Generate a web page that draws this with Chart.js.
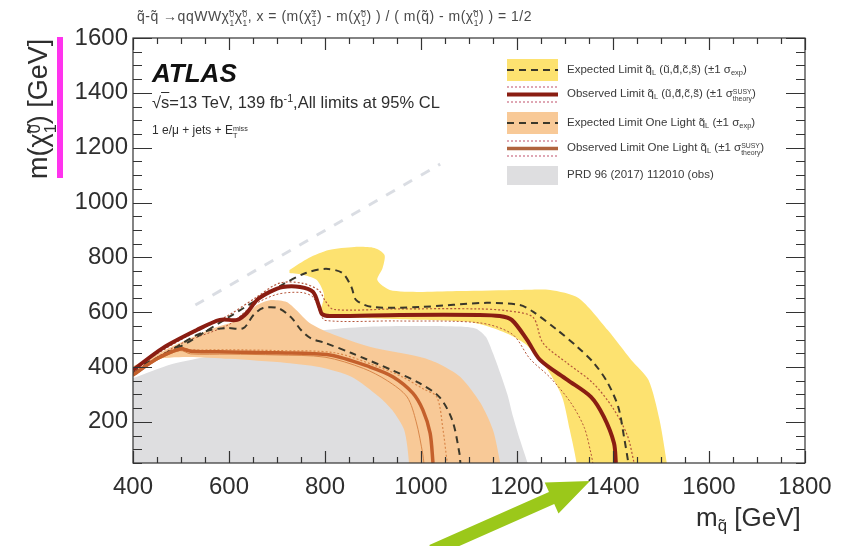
<!DOCTYPE html>
<html>
<head>
<meta charset="utf-8">
<script src="https://cdn.jsdelivr.net/npm/chart.js@4.4.1/dist/chart.umd.min.js"></script>
<style>
  body { margin: 0; background: #fff; }
  #wrap { position: relative; width: 850px; height: 546px; font-family: "Liberation Sans", Arial, sans-serif; color: #2e2e2e; }
  #c { position: absolute; left: 0; top: 0; }
  .t { position: absolute; white-space: nowrap; line-height: 1; }
  .t sub { font-size: 0.65em; vertical-align: -0.3em; line-height: 0; }
  .t sup { font-size: 0.65em; vertical-align: 0.55em; line-height: 0; }
  .ss { display: inline-block; vertical-align: -0.55em; font-size: 0.6em; line-height: 1; text-align: left; }
  .ss > span { display: block; }
</style>
</head>
<body>
<div id="wrap">
  <canvas id="c" width="850" height="546"></canvas>

  <div class="t" style="left:137px; top:9px; font-size:14px; letter-spacing:0.5px; color:#4a4a4a;">q̃-q̃ →qqWWχ̃<span class="ss"><span>0</span><span>1</span></span>χ̃<span class="ss"><span>0</span><span>1</span></span>, x = (m(χ̃<span class="ss"><span>±</span><span>1</span></span>) - m(χ̃<span class="ss"><span>0</span><span>1</span></span>) ) / ( m(q̃) - m(χ̃<span class="ss"><span>0</span><span>1</span></span>) ) = 1/2</div>

  <div class="t" style="left:152px; top:60px; font-size:26px; font-weight:bold; font-style:italic; color:#111;">ATLAS</div>
  <div class="t" style="left:152px; top:94px; font-size:16.5px;">√<span style="text-decoration:overline">s</span>=13 TeV, 139 fb<sup>-1</sup>,All limits at 95% CL</div>
  <div class="t" style="left:152px; top:124px; font-size:12px;">1 e/μ + jets + E<span class="ss"><span>miss</span><span>T</span></span></div>

  <div class="t" style="left:567px; top:64px; font-size:11.5px; color:#3a3a3a;">Expected Limit q̃<sub>L</sub> (ũ,d̃,c̃,s̃) (±1 σ<sub>exp</sub>)</div>
  <div class="t" style="left:567px; top:88px; font-size:11.5px; color:#3a3a3a;">Observed Limit q̃<sub>L</sub> (ũ,d̃,c̃,s̃) (±1 σ<span class="ss"><span>SUSY</span><span>theory</span></span>)</div>
  <div class="t" style="left:567px; top:117px; font-size:11.5px; color:#3a3a3a;">Expected Limit One Light q̃<sub>L</sub> (±1 σ<sub>exp</sub>)</div>
  <div class="t" style="left:567px; top:142px; font-size:11.5px; color:#3a3a3a;">Observed Limit One Light q̃<sub>L</sub> (±1 σ<span class="ss"><span>SUSY</span><span>theory</span></span>)</div>
  <div class="t" style="left:567px; top:169px; font-size:11.5px; color:#3a3a3a;">PRD 96 (2017) 112010 (obs)</div>

  <div class="t" style="left:25px; top:179px; font-size:27px; transform-origin:0 0; transform:rotate(-90deg);">m(χ̃<span class="ss"><span>0</span><span>1</span></span>) [GeV]</div>
  <div style="position:absolute; left:57px; top:37px; width:6px; height:141px; background:#ff33ee;"></div>

  <div class="t" style="left:696px; top:504px; font-size:26px;">m<sub>q̃</sub> [GeV]</div>
</div>

<script>
// axis ticks
const xTicks = [400, 600, 800, 1000, 1200, 1400, 1600, 1800];
const yTicks = [200, 400, 600, 800, 1000, 1200, 1400, 1600];

// PRD 96 (2017) 112010 observed region (closed outline)
const prdX = [380, 400, 480, 600, 700, 800, 900, 1000, 1080, 1115, 1135, 1150, 1165, 1180, 1192, 1207, 1222, 1232, 380];
const prdY = [360, 360, 410, 455, 500, 535, 548, 550, 548, 540, 510, 450, 378, 300, 218, 130, 50, -20, -20];

// expected one light squark, +-1 sigma exp band (closed outline)
const oneLightBandX = [395, 497, 565, 630, 658, 685, 720, 740, 768, 810, 895, 998, 1034, 1082, 1124, 1150, 1165, 1170, 973, 975, 965, 940, 913, 856, 788, 720, 600, 512, 440, 395];
const oneLightBandY = [398, 488, 540, 579, 626, 644, 637, 608, 561, 524, 473, 437, 415, 364, 269, 170, 50, -20, -20, 50, 170, 243, 291, 364, 400, 415, 430, 437, 426, 376];

// expected four light squarks, +-1 sigma exp band (closed outline)
const fourBandX = [726, 766, 808, 861, 903, 924, 920, 909, 935, 998, 1082, 1206, 1269, 1328, 1389, 1438, 1474, 1497, 1512, 1516, 1326, 1324, 1310, 1294, 1264, 1220, 1186, 1143, 1101, 998, 871, 798, 791, 798, 783, 756, 726];
const fourBandY = [754, 798, 827, 838, 834, 809, 761, 717, 681, 674, 677, 681, 681, 652, 535, 426, 353, 207, 50, -20, -20, 50, 170, 291, 389, 480, 517, 546, 564, 572, 579, 586, 601, 663, 717, 736, 743];

// expected limit, four light squarks (dashed)
const expFourX = [400, 497, 580, 648, 710, 760, 802, 836, 855, 865, 899, 998, 1137, 1206, 1234, 1284, 1326, 1360, 1389, 1411, 1423, 1432];
const expFourY = [393, 473, 561, 634, 699, 743, 758, 743, 692, 644, 619, 619, 634, 626, 601, 535, 473, 415, 342, 254, 145, 50];

// observed limit, four light squarks
const obsFourX = [400, 462, 533, 581, 617, 637, 658, 685, 712, 748, 775, 788, 794, 810, 956, 1122, 1164, 1189, 1221, 1248, 1305, 1354, 1381, 1402, 1406];
const obsFourY = [389, 469, 535, 572, 572, 597, 644, 674, 692, 692, 674, 619, 593, 586, 590, 590, 586, 572, 499, 426, 353, 291, 218, 123, 50];
const obsFourUpX = [400, 500, 600, 655, 705, 752, 787, 801, 818, 950, 1120, 1180, 1233, 1254, 1304, 1358, 1400, 1430, 1444];
const obsFourUpY = [395, 500, 590, 652, 706, 706, 680, 640, 610, 612, 612, 605, 582, 488, 415, 342, 250, 150, 50];
const obsFourDnX = [400, 500, 600, 650, 700, 750, 775, 790, 800, 950, 1122, 1190, 1227, 1270, 1312, 1340, 1354, 1358];
const obsFourDnY = [383, 485, 555, 625, 665, 672, 655, 600, 570, 568, 561, 520, 430, 360, 270, 180, 86, 50];

// expected limit, one light squark (dashed)
const expOneX = [400, 497, 533, 561, 596, 630, 651, 671, 702, 729, 750, 770, 800, 855, 939, 996, 1038, 1065, 1080, 1082];
const expOneY = [378, 480, 517, 535, 542, 542, 590, 615, 615, 582, 535, 505, 488, 451, 389, 342, 291, 207, 86, 50];

// observed limit, one light squark
const obsOneX = [400, 450, 498, 520, 600, 700, 810, 894, 942, 983, 1004, 1019, 1025];
const obsOneY = [371, 430, 466, 458, 455, 452, 444, 400, 364, 305, 243, 159, 50];
const obsOneDnX = [400, 450, 498, 520, 600, 700, 800, 880, 930, 971, 990, 1004, 1006];
const obsOneDnY = [366, 425, 460, 448, 447, 444, 436, 395, 350, 291, 200, 80, 50];
const obsOneUpX = [400, 450, 498, 520, 600, 700, 820, 905, 960, 1005, 1033, 1046, 1054, 1056];
const obsOneUpY = [376, 436, 472, 463, 463, 460, 452, 405, 365, 320, 291, 170, 61, 50];

// kinematic guide line
const diagX = [530, 1040];
const diagY = [626, 1140];

const FONT = '"Liberation Sans", Arial, sans-serif';

function pts(xs, ys) {
  return xs.map((x, i) => ({ x: x, y: ys[i] }));
}

function area(xs, ys, color, order) {
  return { data: pts(xs, ys), showLine: true, fill: 'shape', backgroundColor: color,
           borderWidth: 0, borderColor: 'rgba(0,0,0,0)', tension: 0.25, order: order };
}

function curve(xs, ys, color, width, dash, order) {
  return { data: pts(xs, ys), showLine: true, fill: false, borderColor: color,
           borderWidth: width, borderDash: dash, tension: 0.3, order: order };
}

const datasets = [
  area(prdX, prdY, '#dedee0', 20),
  area(oneLightBandX, oneLightBandY, '#f8c997', 19),
  area(fourBandX, fourBandY, '#fde270', 18),
  curve(diagX, diagY, 'rgba(212,215,222,0.85)', 3, [10, 10], 17),
  curve(obsOneDnX, obsOneDnY, '#d9874a', 1, [], 9),
  curve(obsOneUpX, obsOneUpY, '#d9874a', 1.2, [2, 2], 9),
  curve(obsFourDnX, obsFourDnY, '#b4553a', 1, [2, 2], 8),
  curve(obsFourUpX, obsFourUpY, '#b4553a', 1.2, [2, 2], 8),
  curve(expOneX, expOneY, '#3a372a', 2, [7, 5], 5),
  curve(expFourX, expFourY, '#3a372a', 2, [7, 5], 4),
  curve(obsOneX, obsOneY, '#c4602c', 3.5, [], 2),
  curve(obsFourX, obsFourY, '#8a1d12', 4, [], 1),
];

// frame with inward ticks, legend symbols and the green arrow
const atlasDecor = {
  id: 'atlasDecor',
  afterDraw(chart) {
    const { ctx, chartArea: a, scales: { x, y } } = chart;
    ctx.save();
    ctx.strokeStyle = '#333';
    ctx.lineWidth = 1.2;
    ctx.strokeRect(a.left, a.top, a.right - a.left, a.bottom - a.top);
    ctx.beginPath();
    for (let v = 400; v <= 1800; v += 50) {
      const px = Math.round(x.getPixelForValue(v)) + 0.5;
      const len = v % 200 === 0 ? 12 : 6;
      ctx.moveTo(px, a.bottom); ctx.lineTo(px, a.bottom - len);
      ctx.moveTo(px, a.top); ctx.lineTo(px, a.top + len);
    }
    for (let v = 50; v <= 1600; v += 50) {
      const py = Math.round(y.getPixelForValue(v)) + 0.5;
      const len = v % 200 === 0 ? 19 : 9;
      ctx.moveTo(a.left, py); ctx.lineTo(a.left + len, py);
      ctx.moveTo(a.right, py); ctx.lineTo(a.right - len, py);
    }
    ctx.stroke();

    // legend symbols
    const lx = 507, lw = 51;
    ctx.fillStyle = '#fde270';
    ctx.fillRect(lx, 59, lw, 22);
    ctx.fillStyle = '#f8c997';
    ctx.fillRect(lx, 112, lw, 22);
    ctx.fillStyle = '#dedee0';
    ctx.fillRect(lx, 166, lw, 19);

    ctx.strokeStyle = '#3a372a';
    ctx.lineWidth = 2;
    ctx.setLineDash([7, 5]);
    ctx.beginPath();
    ctx.moveTo(lx, 70); ctx.lineTo(lx + lw, 70);
    ctx.moveTo(lx, 123); ctx.lineTo(lx + lw, 123);
    ctx.stroke();

    ctx.setLineDash([2, 2]);
    ctx.lineWidth = 1.2;
    ctx.strokeStyle = '#c0506a';
    ctx.beginPath();
    ctx.moveTo(lx, 87); ctx.lineTo(lx + lw, 87);
    ctx.moveTo(lx, 102); ctx.lineTo(lx + lw, 102);
    ctx.moveTo(lx, 141); ctx.lineTo(lx + lw, 141);
    ctx.moveTo(lx, 156); ctx.lineTo(lx + lw, 156);
    ctx.stroke();

    ctx.setLineDash([]);
    ctx.lineWidth = 4;
    ctx.strokeStyle = '#8a1d12';
    ctx.beginPath(); ctx.moveTo(lx, 94.5); ctx.lineTo(lx + lw, 94.5); ctx.stroke();
    ctx.lineWidth = 3.5;
    ctx.strokeStyle = '#b0643e';
    ctx.beginPath(); ctx.moveTo(lx, 148.5); ctx.lineTo(lx + lw, 148.5); ctx.stroke();

    // green arrow
    const tip = [590, 481], tail = [432, 551];
    const dx = tip[0] - tail[0], dy = tip[1] - tail[1];
    const L = Math.hypot(dx, dy), ux = dx / L, uy = dy / L, nx = -uy, ny = ux;
    const head = 42, hw = 17, sw = 6.5;
    const bx = tip[0] - ux * head, by = tip[1] - uy * head;
    ctx.fillStyle = '#9bc81a';
    ctx.beginPath();
    ctx.moveTo(tail[0] + nx * sw, tail[1] + ny * sw);
    ctx.lineTo(bx + nx * sw, by + ny * sw);
    ctx.lineTo(bx + nx * hw, by + ny * hw);
    ctx.lineTo(tip[0], tip[1]);
    ctx.lineTo(bx - nx * hw, by - ny * hw);
    ctx.lineTo(bx - nx * sw, by - ny * sw);
    ctx.lineTo(tail[0] - nx * sw, tail[1] - ny * sw);
    ctx.closePath();
    ctx.fill();
    ctx.restore();
  }
};

new Chart(document.getElementById('c').getContext('2d'), {
  type: 'scatter',
  data: { datasets: datasets },
  options: {
    responsive: false,
    animation: false,
    layout: { padding: { left: 0, right: 45, top: 38, bottom: 0 } },
    elements: { point: { radius: 0, hoverRadius: 0 }, line: { capBezierPoints: false } },
    plugins: { legend: { display: false }, tooltip: { enabled: false } },
    scales: {
      x: {
        type: 'linear', min: 400, max: 1800,
        grid: { display: false, drawTicks: false }, border: { display: false },
        afterBuildTicks: (s) => { s.ticks = xTicks.map((v) => ({ value: v })); },
        afterFit: (s) => { s.height = 83; },
        ticks: { font: { family: FONT, size: 24 }, color: '#2e2e2e', padding: 10, maxRotation: 0, autoSkip: false,
                 callback: (v) => String(v) },
      },
      y: {
        type: 'linear', min: 50, max: 1600,
        grid: { display: false, drawTicks: false }, border: { display: false },
        afterBuildTicks: (s) => { s.ticks = yTicks.map((v) => ({ value: v })); },
        afterFit: (s) => { s.width = 133; },
        ticks: { font: { family: FONT, size: 24 }, color: '#2e2e2e', padding: 5, autoSkip: false,
                 callback: (v) => String(v) },
      },
    },
  },
  plugins: [atlasDecor],
});
</script>
</body>
</html>
